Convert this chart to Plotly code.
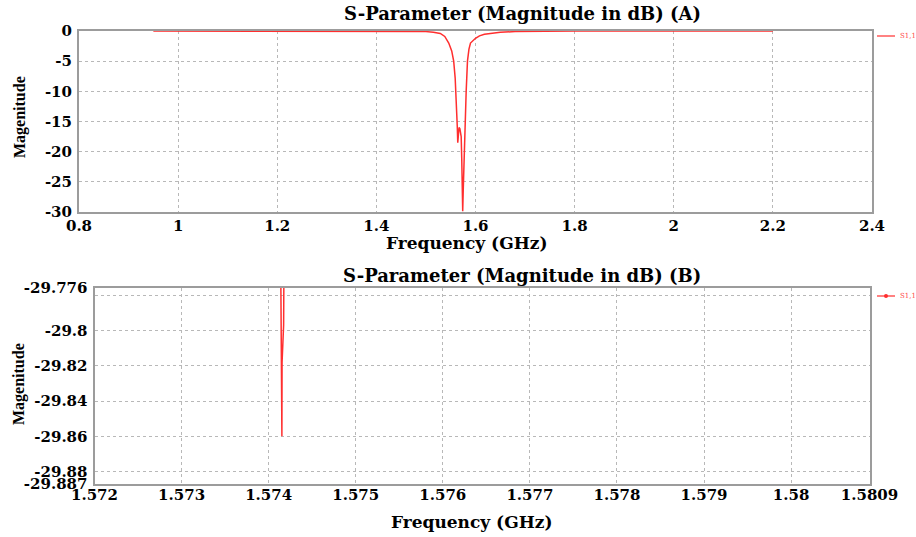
import plotly.graph_objects as go

# Full-band S11 sweep (GHz, dB)
freq_a = [0.95, 1.00, 1.10, 1.20, 1.30, 1.40, 1.45, 1.48, 1.50, 1.515, 1.529,
          1.538, 1.546, 1.552, 1.556, 1.559, 1.5616, 1.5632, 1.5642, 1.5655,
          1.5668, 1.5685, 1.5700, 1.5711, 1.5722, 1.5733, 1.5742, 1.5752,
          1.5765, 1.5778, 1.5795, 1.5812, 1.5838, 1.5868, 1.5899, 1.5950,
          1.6000, 1.6080, 1.6180, 1.6300, 1.6500, 1.6800, 1.7100, 1.7500,
          1.8000, 1.9000, 2.0000, 2.1000, 2.2000]
s11_a = [-0.01, -0.01, -0.01, -0.02, -0.03, -0.04, -0.06, -0.08, -0.10, -0.20, -0.40,
         -0.90, -2.00, -3.30, -5.00, -7.80, -11.50, -15.80, -18.50, -17.20,
         -16.00, -16.20, -16.80, -17.50, -21.00, -26.00, -29.86, -26.50,
         -22.00, -18.70, -14.00, -10.00, -5.00, -3.00, -2.00, -1.50,
         -1.20, -0.80, -0.55, -0.40, -0.22, -0.10, -0.05, -0.03,
         -0.02, -0.01, -0.01, -0.01, -0.01]

# Zoomed S11 around the resonance minimum (GHz, dB)
freq_b = [1.574130, 1.574142, 1.574150, 1.574152, 1.574154, 1.574172, 1.574178, 1.574195]
s11_b = [-29.700, -29.818, -29.818, -29.860, -29.818, -29.797, -29.740, -29.650]

x_ticks_a = [0.8, 1.0, 1.2, 1.4, 1.6, 1.8, 2.0, 2.2, 2.4]
x_labels_a = ["0.8", "1", "1.2", "1.4", "1.6", "1.8", "2", "2.2", "2.4"]
y_ticks_a = [0, -5, -10, -15, -20, -25, -30]
y_labels_a = ["0", "-5", "-10", "-15", "-20", "-25", "-30"]

x_ticks_b = [1.572, 1.573, 1.574, 1.575, 1.576, 1.577, 1.578, 1.579, 1.580, 1.5809]
x_labels_b = ["1.572", "1.573", "1.574", "1.575", "1.576", "1.577", "1.578",
              "1.579", "1.58", "1.5809"]
y_ticks_b = [-29.776, -29.78, -29.80, -29.82, -29.84, -29.86, -29.88, -29.887]
y_labels_b = ["-29.776", "", "-29.8", "-29.82", "-29.84", "-29.86", "-29.88", "-29.887"]

W, H = 916, 537
RED = "#ff2e2e"
GRID = "#b8b8b8"
FRAME = "#9c9c9c"


def px(v):
    return v / W


def py(v):
    return 1 - v / H


tick_font = dict(family="DejaVu Serif", size=15, color="black", weight="bold")
axis_common = dict(
    showgrid=True, gridcolor=GRID, griddash="dot", gridwidth=1,
    showline=True, linecolor=FRAME, linewidth=2, mirror=True,
    zeroline=False, ticks="", tickfont=tick_font, tickmode="array",
    automargin=False,
)

fig = go.Figure()
fig.add_trace(go.Scatter(x=freq_a, y=s11_a, mode="lines", name="S1,1",
                         line=dict(color=RED, width=1.5),
                         xaxis="x", yaxis="y", showlegend=False))
fig.add_trace(go.Scatter(x=freq_b, y=s11_b, mode="lines", name="S1,1",
                         line=dict(color=RED, width=1.5),
                         xaxis="x2", yaxis="y2", showlegend=False))

fig.update_layout(
    width=W, height=H,
    margin=dict(l=0, r=0, t=0, b=0, autoexpand=False),
    paper_bgcolor="white", plot_bgcolor="white",
    xaxis=dict(axis_common, domain=[px(79), px(872)], anchor="y",
               range=[0.8, 2.4], tickvals=x_ticks_a, ticktext=x_labels_a,
               ticklabelstandoff=-1),
    yaxis=dict(axis_common, domain=[py(212), py(31)], anchor="x",
               range=[-30, 0], tickvals=y_ticks_a, ticktext=y_labels_a,
               ticklabelstandoff=2),
    xaxis2=dict(axis_common, domain=[px(94.5), px(869.5)], anchor="y2",
                range=[1.572, 1.5809], tickvals=x_ticks_b, ticktext=x_labels_b,
                ticklabelstandoff=-4),
    yaxis2=dict(axis_common, domain=[py(484), py(288)], anchor="x2",
                range=[-29.887, -29.776], tickvals=y_ticks_b, ticktext=y_labels_b,
                ticklabelstandoff=2),
)

title_font = dict(family="DejaVu Serif", size=18, color="black", weight="bold")
xtitle_font = dict(family="DejaVu Serif", size=17, color="black", weight="bold")
ytitle_font = dict(family="Liberation Serif", size=16, color="black", weight="bold")


def note(text, x, y, font, xanchor="center", **kw):
    fig.add_annotation(text=text, x=px(x), y=py(y), xref="paper", yref="paper",
                       showarrow=False, font=font, xanchor=xanchor,
                       yanchor="middle", **kw)


note("S-Parameter (Magnitude in dB) (A)", 522, 14, title_font)
note("S-Parameter (Magnitude in dB) (B)", 522, 275, title_font)
note("Frequency (GHz)", 466, 243, xtitle_font)
note("Frequency (GHz)", 471, 522, xtitle_font)
note("Magenitude", 20, 117, ytitle_font, textangle=-90)
note("Magenitude", 19, 384, ytitle_font, textangle=-90)

# Legend keys for the two panels
legend_font = dict(family="DejaVu Serif", size=7, color="#ff4a4a")
for ly, with_dot in ((36, False), (296, True)):
    fig.add_shape(type="line", xref="paper", yref="paper",
                  x0=px(877), x1=px(895), y0=py(ly), y1=py(ly),
                  line=dict(color=RED, width=1.2))
    if with_dot:
        fig.add_shape(type="circle", xref="paper", yref="paper",
                      x0=px(884), x1=px(888), y0=py(ly + 2), y1=py(ly - 2),
                      fillcolor=RED, line=dict(color=RED, width=0))
    note("S1,1", 898, ly, legend_font, xanchor="left")

fig.write_html("out.html")
